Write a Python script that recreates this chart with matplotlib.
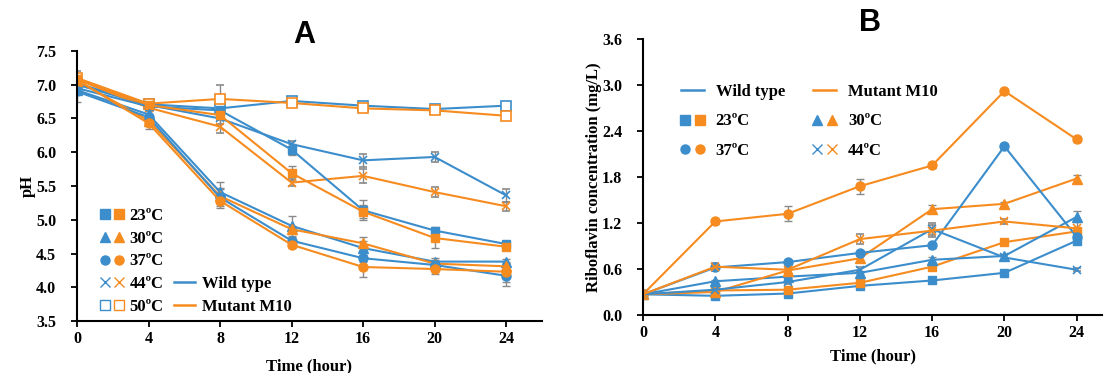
import matplotlib
matplotlib.use('Agg')
import matplotlib.pyplot as plt
from matplotlib.lines import Line2D
from matplotlib.legend_handler import HandlerTuple
import numpy as np

plt.rcParams['font.family'] = 'Liberation Serif'
plt.rcParams['font.weight'] = 'bold'

blue = '#3c8dcb'
orange = '#f68b1f'
errc = '#8a8a8a'

time = [0, 4, 8, 12, 16, 20, 24]
temps = ['23ºC', '30ºC', '37ºC', '44ºC', '50ºC']

# panel A: pH
ph_wt = {
    '23': [6.95, 6.68, 6.62, 6.04, 5.14, 4.84, 4.64],
    '30': [6.92, 6.56, 5.41, 4.91, 4.58, 4.38, 4.38],
    '37': [6.90, 6.52, 5.33, 4.69, 4.43, 4.33, 4.17],
    '44': [7.00, 6.70, 6.50, 6.12, 5.88, 5.93, 5.36],
    '50': [7.02, 6.71, 6.65, 6.76, 6.69, 6.64, 6.69],
}
ph_mut = {
    '23': [7.08, 6.70, 6.55, 5.69, 5.12, 4.73, 4.60],
    '30': [7.06, 6.47, 5.35, 4.86, 4.65, 4.35, 4.31],
    '37': [7.07, 6.43, 5.28, 4.63, 4.30, 4.27, 4.23],
    '44': [7.08, 6.66, 6.38, 5.55, 5.65, 5.41, 5.20],
    '50': [7.10, 6.72, 6.79, 6.73, 6.65, 6.62, 6.54],
}
ph_wt_err = {
    '23': [0.05, 0.05, 0.05, 0.08, 0.15, 0.05, 0.04],
    '30': [0.05, 0.05, 0.15, 0.15, 0.10, 0.05, 0.04],
    '37': [0.15, 0.05, 0.12, 0.05, 0.05, 0.05, 0.15],
    '44': [0.05, 0.05, 0.08, 0.05, 0.10, 0.08, 0.10],
    '50': [0.05, 0.05, 0.05, 0.05, 0.05, 0.05, 0.05],
}
ph_mut_err = {
    '23': [0.08, 0.05, 0.05, 0.10, 0.10, 0.15, 0.05],
    '30': [0.05, 0.05, 0.12, 0.05, 0.10, 0.05, 0.05],
    '37': [0.05, 0.08, 0.10, 0.05, 0.15, 0.07, 0.15],
    '44': [0.08, 0.05, 0.10, 0.05, 0.10, 0.08, 0.07],
    '50': [0.10, 0.05, 0.20, 0.05, 0.05, 0.03, 0.03],
}

# panel B: riboflavin (mg/L)
rf_wt = {
    '23': [0.27, 0.25, 0.28, 0.38, 0.45, 0.55, 0.97],
    '30': [0.27, 0.44, 0.50, 0.55, 0.72, 0.77, 1.28],
    '37': [0.27, 0.62, 0.69, 0.81, 0.91, 2.20, 1.02],
    '44': [0.27, 0.33, 0.43, 0.59, 1.12, 0.75, 0.59],
}
rf_mut = {
    '23': [0.27, 0.32, 0.33, 0.42, 0.63, 0.95, 1.09],
    '30': [0.27, 0.30, 0.58, 0.74, 1.38, 1.45, 1.78],
    '37': [0.27, 1.22, 1.32, 1.68, 1.95, 2.92, 2.29],
    '44': [0.27, 0.63, 0.59, 0.99, 1.10, 1.22, 1.13],
}
rf_wt_err = {
    '23': [0.02, 0.02, 0.02, 0.02, 0.02, 0.02, 0.03],
    '30': [0.02, 0.02, 0.02, 0.03, 0.03, 0.03, 0.07],
    '37': [0.02, 0.03, 0.02, 0.03, 0.03, 0.03, 0.05],
    '44': [0.02, 0.02, 0.02, 0.03, 0.08, 0.03, 0.02],
}
rf_mut_err = {
    '23': [0.02, 0.02, 0.02, 0.02, 0.03, 0.03, 0.03],
    '30': [0.02, 0.02, 0.03, 0.03, 0.05, 0.03, 0.05],
    '37': [0.02, 0.03, 0.10, 0.10, 0.03, 0.03, 0.03],
    '44': [0.02, 0.05, 0.03, 0.07, 0.08, 0.03, 0.08],
}

markers = {'23': 's', '30': '^', '37': 'o', '44': 'x', '50': 's'}
ms = {'23': 6, '30': 6.5, '37': 6.5, '44': 6, '50': 6.5}


def draw(ax, key, y, err, color):
    face = 'white' if key == '50' else color
    ax.errorbar(time, y, yerr=err, color=color, ecolor=errc, elinewidth=1,
                capsize=3, capthick=1, lw=1.5, marker=markers[key],
                ms=ms[key], mfc=face, mec=color, mew=1.2 if key in ('44', '50') else 1)


def style(ax, xpad):
    for s in ['top', 'right']:
        ax.spines[s].set_visible(False)
    for s in ['left', 'bottom']:
        ax.spines[s].set_linewidth(1.5)
    ax.tick_params(direction='out', length=4, width=1.3, labelsize=11.5)
    ax.tick_params(axis='y', pad=11)
    ax.set_xticks(time)
    ax.set_xlabel('Time (hour)', fontsize=12, fontweight='bold', labelpad=xpad)


def pair(key):
    face_b = 'white' if key == '50' else blue
    face_o = 'white' if key == '50' else orange
    hb = Line2D([], [], ls='none', marker=markers[key], ms=6.5, color=blue, mfc=face_b, mec=blue)
    ho = Line2D([], [], ls='none', marker=markers[key], ms=6.5, color=orange, mfc=face_o, mec=orange)
    return (hb, ho)


blank = Line2D([], [], ls='none', marker='none')
wt_line = Line2D([], [], color=blue, lw=1.8)
mut_line = Line2D([], [], color=orange, lw=1.8)

fig = plt.figure(figsize=(11.06, 3.73), dpi=100)

# ---- A ----
axA = fig.add_axes([0.0696, 0.1394, 0.4204, 0.7239])
for k in ['50', '44', '23', '30', '37']:
    draw(axA, k, ph_wt[k], ph_wt_err[k], blue)
    draw(axA, k, ph_mut[k], ph_mut_err[k], orange)
axA.set_xlim(0, 26)
axA.set_ylim(3.5, 7.5)
axA.set_yticks(np.arange(3.5, 7.51, 0.5))
axA.yaxis.set_major_formatter(matplotlib.ticker.FormatStrFormatter('%.1f'))
style(axA, 8)
axA.set_ylabel('pH', fontsize=12, fontweight='bold', labelpad=0)
axA.set_title('A', fontsize=22, fontweight='bold', family='Liberation Sans', x=0.488, y=1.0, pad=6)

handlesA = [pair(k) for k in ['23', '30', '37', '44', '50']] + [blank, blank, blank, wt_line, mut_line]
labelsA = temps + ['', '', '', 'Wild type', 'Mutant M10']
axA.legend(handlesA, labelsA, ncol=2, loc='upper left', bbox_to_anchor=(0.03, 0.455),
           frameon=False, handler_map={tuple: HandlerTuple(ndivide=None, pad=0.4)},
           prop={'size': 12, 'weight': 'bold'}, handlelength=1.3, handletextpad=0.42,
           labelspacing=0.4, columnspacing=0.6, borderpad=0.1)

# ---- B ----
axB = fig.add_axes([0.5814, 0.1555, 0.415, 0.74])
for k in ['23', '30', '37', '44']:
    draw(axB, k, rf_wt[k], rf_wt_err[k], blue)
    draw(axB, k, rf_mut[k], rf_mut_err[k], orange)
axB.set_xlim(0, 25.4)
axB.set_ylim(0, 3.6)
axB.set_yticks(np.arange(0, 3.61, 0.6))
axB.yaxis.set_major_formatter(matplotlib.ticker.FormatStrFormatter('%.1f'))
style(axB, 5)
axB.set_ylabel('Riboflavin concentration (mg/L)', fontsize=12, fontweight='bold', labelpad=0)
fig.text(870 / 1106, 1 - 23 / 373, 'B', fontsize=22, fontweight='bold',
         family='Liberation Sans', ha='center', va='center')

handlesB = [wt_line, pair('23'), pair('37'), mut_line, pair('30'), pair('44')]
labelsB = ['Wild type', '23ºC', '37ºC', 'Mutant M10', '30ºC', '44ºC']
axB.legend(handlesB, labelsB, ncol=2, loc='upper left', bbox_to_anchor=(0.06, 0.873),
           frameon=False, handler_map={tuple: HandlerTuple(ndivide=None, pad=0.4)},
           prop={'size': 12, 'weight': 'bold'}, handlelength=1.4, handletextpad=0.7,
           labelspacing=0.8, columnspacing=1.7, borderpad=0.1)

fig.savefig('out.png', dpi=100)
